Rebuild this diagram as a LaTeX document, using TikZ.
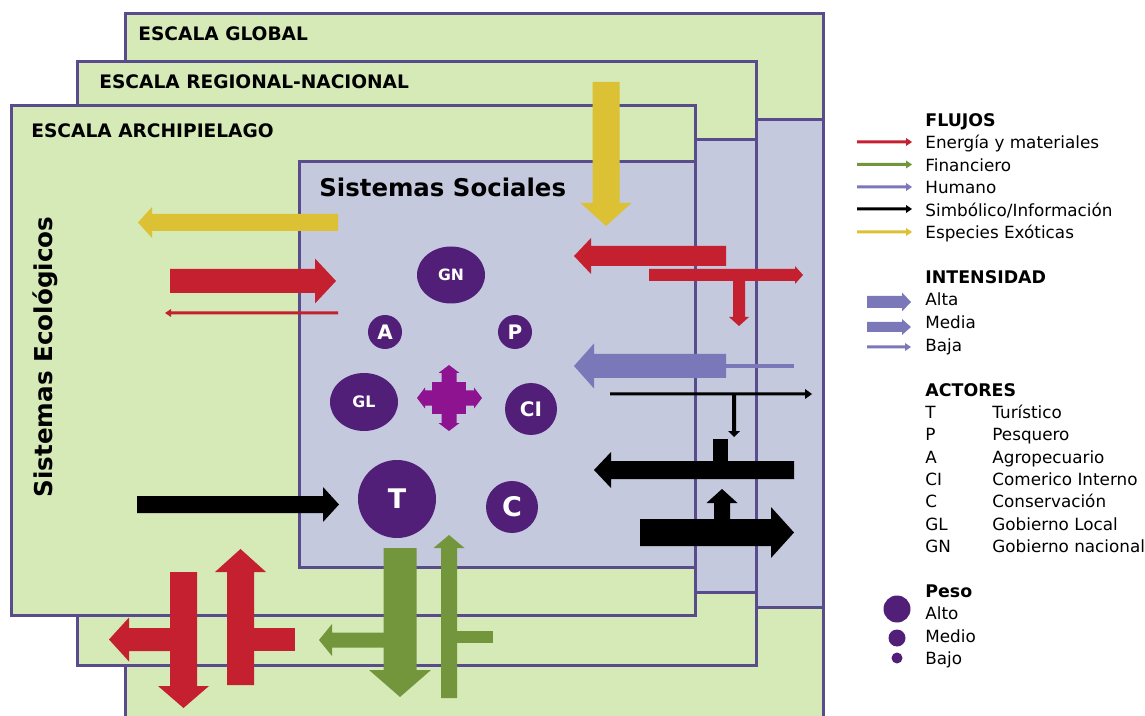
\documentclass[tikz,border=0pt]{standalone}
\usepackage{fontspec}
\setmainfont{DejaVu Sans}
\usetikzlibrary{calc,shapes.geometric}
\definecolor{ecogreen}{HTML}{D5EAB7}
\definecolor{socialblue}{HTML}{C4C9DE}
\definecolor{frameline}{HTML}{584C8C}
\definecolor{flowred}{HTML}{C4202F}
\definecolor{flowgreen}{HTML}{73963D}
\definecolor{flowyellow}{HTML}{DCC134}
\definecolor{flowblue}{HTML}{7A78B8}
\definecolor{actorpurple}{HTML}{521F78}
\definecolor{crossmagenta}{HTML}{8E1391}

% block arrow: colour, from, tip, half shaft, half head, head length
\newcommand{\flow}[6]{%
  \coordinate (hb) at ($(#3)!#6!(#2)$);
  \fill[#1] ($(#2)!#4!90:(#3)$) -- ($(hb)!#4!90:(#3)$) -- ($(hb)!#5!90:(#3)$) -- (#3)
    -- ($(hb)!#5!-90:(#3)$) -- ($(hb)!#4!-90:(#3)$) -- ($(#2)!#4!-90:(#3)$) -- cycle;
}

\tikzset{
  scalebox/.style={draw=frameline,line width=1.5pt,fill=ecogreen},
  socialbox/.style={draw=frameline,line width=1.5pt,fill=socialblue},
  scalelabel/.style={anchor=west,inner sep=0pt,text height=6.8pt,text depth=0pt,
    font=\fontsize{9.3}{11}\selectfont\bfseries},
  legendtxt/.style={anchor=west,inner sep=0pt,text height=6.1pt,text depth=0pt,
    font=\fontsize{8.4}{10}\selectfont},
  legendhead/.style={legendtxt,text height=6.3pt,font=\fontsize{8.7}{10}\selectfont\bfseries},
  actor/.style={fill=actorpurple,text=white,inner sep=0pt},
}

\begin{document}
\begin{tikzpicture}[x=0.5pt,y=-0.5pt]
  \useasboundingbox (0,0) rectangle (1145,716);
  \clip (0,0) rectangle (1145,716);

  % scales, back to front
  \draw[scalebox] (125,14) rectangle (823,740);
  \draw[socialbox] (756,120) rectangle (823,607);
  \draw[scalebox] (77,62) rectangle (756,665);
  \draw[socialbox] (695,140) rectangle (756,592);
  \draw[scalebox] (11,106) rectangle (695,615);
  \draw[socialbox] (299,162) rectangle (695,567);

  \node[scalelabel] (global) at (138,34) {ESCALA GLOBAL};
  \node[scalelabel] (regional) at (99,82) {ESCALA REGIONAL-NACIONAL};
  \node[scalelabel] (archi) at (31,131) {ESCALA ARCHIPIELAGO};
  \node[anchor=west,inner sep=0pt,text height=8.9pt,text depth=0pt,
    font=\fontsize{12.2}{14}\selectfont\bfseries] (sociales) at (319,188) {Sistemas Sociales};
  \node[rotate=90,inner sep=0pt,text height=9pt,text depth=0pt,
    font=\fontsize{12.3}{14}\selectfont\bfseries] (ecologicos) at (43,357) {Sistemas Ecológicos};

  % actors
  \node[actor,ellipse,minimum width=34pt,minimum height=28.5pt,
    font=\fontsize{7.8}{9}\selectfont\bfseries] (gn) at (451,275) {GN};
  \node[actor,circle,minimum size=17pt,font=\fontsize{10}{12}\selectfont\bfseries] (a) at (385,332) {A};
  \node[actor,circle,minimum size=17pt,font=\fontsize{10}{12}\selectfont\bfseries] (p) at (515,332) {P};
  \node[actor,ellipse,minimum width=34pt,minimum height=29pt,
    font=\fontsize{7.9}{9}\selectfont\bfseries] (gl) at (364,402) {GL};
  \node[actor,circle,minimum size=26pt,font=\fontsize{10}{12}\selectfont\bfseries] (ci) at (531,409) {CI};
  \node[actor,circle,minimum size=39pt,font=\fontsize{13.5}{15}\selectfont\bfseries] (t) at (397,499) {T};
  \node[actor,circle,minimum size=26pt,font=\fontsize{13.5}{15}\selectfont\bfseries] (c) at (512,507) {C};

  % interaction cross
  \fill[crossmagenta] (432,382) rectangle (466,414);
  \flow{crossmagenta}{449,398}{449,365}{3.75pt}{5.25pt}{4pt}
  \flow{crossmagenta}{449,398}{449,431}{3.75pt}{5.25pt}{4pt}
  \flow{crossmagenta}{449,398}{417,398}{3.75pt}{5.25pt}{4pt}
  \flow{crossmagenta}{449,398}{482,398}{3.75pt}{5.25pt}{4pt}

  % flows with ecological systems
  \flow{flowyellow}{338,222.5}{138,222.5}{4.25pt}{7.75pt}{7pt}
  \flow{flowred}{170,281}{336,281}{6pt}{11.25pt}{10.5pt}
  \flow{flowred}{338,313}{165,313}{0.75pt}{2pt}{3pt}
  \flow{black}{137,504.5}{339,504.5}{4.25pt}{8.75pt}{8pt}

  % flows with other scales
  \flow{flowyellow}{606,82}{606,226}{6.75pt}{12.75pt}{11.5pt}
  \flow{flowred}{726,256}{574,256}{5pt}{9pt}{8.5pt}
  \flow{flowred}{649,275}{803,275}{3pt}{4.5pt}{4pt}
  \flow{flowred}{739,275}{739,326}{3pt}{5pt}{4.5pt}
  \flow{flowblue}{726,366}{574,366}{6pt}{11.25pt}{10pt}
  \fill[flowblue] (726,364) rectangle (794,368);
  \flow{black}{610,394}{812,394}{0.75pt}{2.5pt}{3.5pt}
  \flow{black}{734,394}{734,437}{1pt}{3pt}{3pt}
  \fill[black] (713,439) rectangle (728,462);
  \flow{black}{794,470}{594,470}{4.5pt}{9pt}{8.5pt}
  \flow{black}{640,532.5}{794,532.5}{6.75pt}{12.75pt}{11.5pt}
  \flow{black}{722,532}{722,489}{4pt}{7.75pt}{7pt}

  % bottom flows
  \flow{flowred}{183.5,572}{183.5,708}{6.75pt}{12.75pt}{11pt}
  \flow{flowred}{183.5,639.5}{109,639.5}{5.75pt}{11pt}{10pt}
  \flow{flowred}{240.5,685}{240.5,549}{6.75pt}{12.75pt}{11.5pt}
  \fill[flowred] (250,628) rectangle (295,651);
  \flow{flowgreen}{400,548}{400,697}{8.25pt}{15.5pt}{13.5pt}
  \flow{flowgreen}{400,640}{319,640}{3.75pt}{8pt}{6.5pt}
  \flow{flowgreen}{449,698}{449,535}{4pt}{7.75pt}{6.5pt}
  \fill[flowgreen] (455,631) rectangle (493,643);

  % legend: flujos
  \node[legendhead] (flujos) at (925,120.5) {FLUJOS};
  \flow{flowred}{857,142}{912,142}{0.75pt}{2pt}{3pt}
  \flow{flowgreen}{857,164.5}{912,164.5}{0.75pt}{2pt}{3pt}
  \flow{flowblue}{857,187}{912,187}{0.75pt}{2pt}{3pt}
  \flow{black}{857,209}{912,209}{0.75pt}{2pt}{3pt}
  \flow{flowyellow}{857,232}{912,232}{0.75pt}{2pt}{3pt}
  \node[legendtxt] (energia) at (925,142.5) {Energía y materiales};
  \node[legendtxt] (financiero) at (925,165) {Financiero};
  \node[legendtxt] (humano) at (925,187.5) {Humano};
  \node[legendtxt] (simbolico) at (925,210) {Simbólico/Información};
  \node[legendtxt] (especies) at (925,232) {Especies Exóticas};

  % legend: intensidad
  \node[legendhead] (intensidad) at (925,277.5) {INTENSIDAD};
  \flow{flowblue}{867,302}{911,302}{3pt}{4.75pt}{4.5pt}
  \flow{flowblue}{867,327}{911,327}{2.5pt}{4pt}{4.5pt}
  \flow{flowblue}{867,347}{911,347}{0.75pt}{2pt}{3pt}
  \node[legendtxt] (alta) at (925,299) {Alta};
  \node[legendtxt] (media) at (925,322) {Media};
  \node[legendtxt] (baja) at (925,345) {Baja};

  % legend: actores
  \node[legendhead] (actores) at (925,390) {ACTORES};
  \node[legendtxt] (kt) at (925,412) {T};
  \node[legendtxt] (kp) at (925,434.5) {P};
  \node[legendtxt] (ka) at (925,457) {A};
  \node[legendtxt] (kci) at (925,479) {CI};
  \node[legendtxt] (kc) at (925,501.5) {C};
  \node[legendtxt] (kgl) at (925,524) {GL};
  \node[legendtxt] (kgn) at (925,546) {GN};
  \node[legendtxt] (turistico) at (992,412) {Turístico};
  \node[legendtxt] (pesquero) at (992,434.5) {Pesquero};
  \node[legendtxt] (agro) at (992,457) {Agropecuario};
  \node[legendtxt] (comercio) at (992,479) {Comerico Interno};
  \node[legendtxt] (conserva) at (992,501.5) {Conservación};
  \node[legendtxt] (gobloc) at (992,524) {Gobierno Local};
  \node[legendtxt] (gobnac) at (992,546) {Gobierno nacional};

  % legend: peso
  \node[legendhead] (peso) at (925,591) {Peso};
  \node[actor,circle,minimum size=13.5pt] (pesoalto) at (897,609) {};
  \node[actor,circle,minimum size=8.5pt] (pesomedio) at (897,638) {};
  \node[actor,circle,minimum size=5.5pt] (pesobajo) at (897,658) {};
  \node[legendtxt] (alto) at (925,613) {Alto};
  \node[legendtxt] (medio) at (925,636) {Medio};
  \node[legendtxt] (bajo) at (925,658) {Bajo};
\end{tikzpicture}
\end{document}
